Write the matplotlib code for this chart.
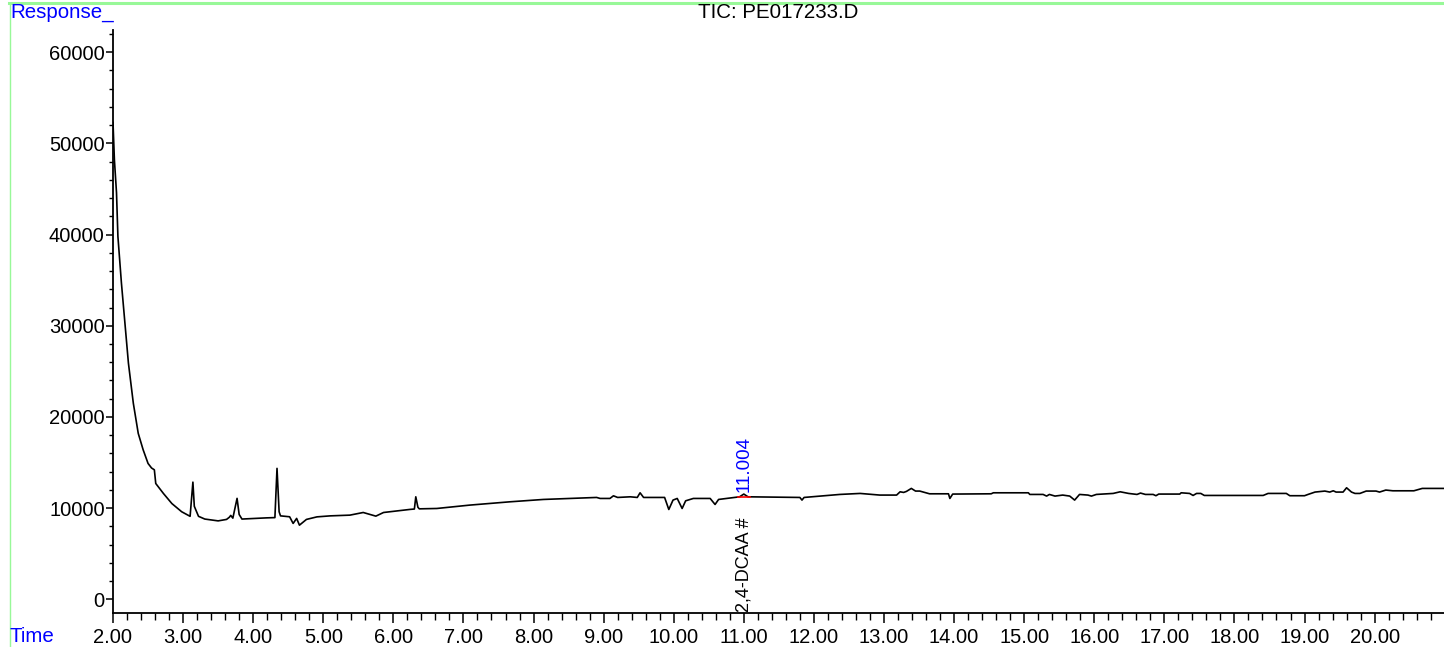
import matplotlib
matplotlib.use("Agg")
import matplotlib.pyplot as plt
from matplotlib.ticker import MultipleLocator, FormatStrFormatter
from matplotlib.lines import Line2D

plt.rcParams['font.family'] = ['Liberation Sans', 'DejaVu Sans']

# ---- data (retention time in min, response) ----
time_min = [2.00, 2.02, 2.05, 2.07, 2.12, 2.17, 2.22, 2.29, 2.36, 2.43, 2.50, 2.55, 2.59, 2.61,
            2.72, 2.84, 2.98,
            3.10, 3.14, 3.16, 3.22, 3.31, 3.50, 3.62, 3.66, 3.68, 3.71, 3.77, 3.80, 3.84,
            4.19, 4.31, 4.34, 4.37, 4.39, 4.52, 4.57, 4.62, 4.66, 4.76, 4.91, 5.10, 5.38,
            5.57, 5.75, 5.86, 6.24, 6.30, 6.32, 6.35, 6.37, 6.62, 7.09, 7.66, 8.14, 8.52,
            8.90, 8.95, 9.09, 9.14, 9.20, 9.38, 9.48, 9.52, 9.57, 9.87, 9.93, 9.99, 10.05,
            10.12, 10.17, 10.28, 10.52, 10.59, 10.64, 10.94, 11.00, 11.06, 11.80, 11.83,
            11.86, 12.09, 12.37, 12.66, 12.94, 13.18, 13.23, 13.28, 13.32, 13.39, 13.45,
            13.51, 13.65, 13.92, 13.94, 13.98, 14.53, 14.56, 15.06, 15.08, 15.27, 15.32,
            15.36, 15.44, 15.55, 15.65, 15.72, 15.79, 15.91, 15.96, 16.03, 16.27, 16.37,
            16.49, 16.61, 16.66, 16.73, 16.84, 16.88, 16.92, 17.22, 17.24, 17.36, 17.41,
            17.46, 17.52, 17.57, 18.41, 18.48, 18.74, 18.79, 19.00, 19.05, 19.15, 19.29,
            19.36, 19.41, 19.45, 19.55, 19.60, 19.67, 19.72, 19.79, 19.88, 20.02, 20.07,
            20.16, 20.26, 20.56, 20.68, 20.98]
response = [52300, 48200, 44600, 39800, 34700, 30300, 25900, 21500, 18200, 16400, 14900, 14400, 14200, 12700,
            11600, 10500, 9600,
            9100, 12850, 10200, 9100, 8800, 8600, 8760, 9000, 9200, 8900, 11070, 9300, 8800,
            8930, 8960, 14360, 9600, 9150, 9050, 8320, 8870, 8130, 8760, 9040, 9150, 9230,
            9520, 9120, 9520, 9860, 9900, 11240, 10100, 9920, 9960, 10330, 10690, 10950, 11060,
            11170, 11060, 11060, 11350, 11170, 11240, 11170, 11680, 11170, 11170, 9850, 10880, 11060,
            9960, 10800, 11060, 11060, 10400, 10950, 11240, 11540, 11240, 11170, 10880,
            11170, 11320, 11500, 11610, 11430, 11430, 11790, 11720, 11830, 12160, 11870,
            11870, 11570, 11570, 11060, 11540, 11570, 11680, 11680, 11500, 11500, 11320,
            11500, 11320, 11430, 11320, 10880, 11500, 11430, 11320, 11500, 11610, 11790,
            11610, 11500, 11650, 11500, 11500, 11360, 11540, 11540, 11680, 11610, 11390,
            11610, 11610, 11390, 11390, 11610, 11610, 11360, 11360, 11500, 11760, 11870,
            11760, 11900, 11760, 11760, 12230, 11760, 11610, 11610, 11870, 11870, 11760,
            11980, 11900, 11900, 12160, 12160]

peak_rt = 11.004
peak_label = "11.004"
compound_label = "2,4-DCAA #"
title = "TIC: PE017233.D"

W, H = 1444, 647
fig = plt.figure(figsize=(W / 100, H / 100), dpi=100)
ax = fig.add_axes([113 / W, 34 / H, (W - 113) / W, (613 - 30) / H])

ax.plot(time_min, response, color='black', lw=1.2)

ax.set_xlim(2.0, 20.99)
ax.set_ylim(-1504, 62440)

ax.xaxis.set_major_locator(MultipleLocator(1.0))
ax.xaxis.set_minor_locator(MultipleLocator(0.2))
ax.xaxis.set_major_formatter(FormatStrFormatter('%.2f'))
ax.yaxis.set_major_locator(MultipleLocator(10000))
ax.yaxis.set_minor_locator(MultipleLocator(2000))
ax.yaxis.set_major_formatter(FormatStrFormatter('%d'))

for s in ['top', 'right']:
    ax.spines[s].set_visible(False)
for s in ['left', 'bottom']:
    ax.spines[s].set_linewidth(1.3)

ax.tick_params(axis='x', which='major', length=7, width=1.1, pad=4, labelsize=14.5, direction='out')
ax.tick_params(axis='x', which='minor', length=5, width=1.0, direction='out')
ax.tick_params(axis='y', which='major', length=5, width=1.1, pad=1, labelsize=14.5, direction='out')
ax.tick_params(axis='y', which='minor', length=3, width=1.0, direction='out')

# peak annotation
ax.plot([peak_rt - 0.08, peak_rt + 0.08], [11170, 11170], color='red', lw=1.2)
ax.text(peak_rt, 11800, peak_label, rotation=90, color='#0000FF', fontsize=13.5,
        ha='center', va='bottom')
ax.text(peak_rt, 0.002, compound_label, rotation=90, color='black', fontsize=13,
        ha='center', va='bottom', transform=ax.get_xaxis_transform())

# figure texts
fig.text(778 / W, 1 - 13 / H, title, ha='center', va='center', fontsize=14.8)
fig.text(10 / W, 1 - 12 / H, "Response_", ha='left', va='center', fontsize=14.8, color='#0000FF')
fig.text(10 / W, 1 - 637 / H, "Time", ha='left', va='center', fontsize=14.8, color='#0000FF')

# green frame
fig.add_artist(Line2D([9 / W, 1], [1 - 2.5 / H, 1 - 2.5 / H], transform=fig.transFigure,
                      color='#98F898', lw=2.2))
fig.add_artist(Line2D([9.5 / W, 9.5 / W], [0, 1 - 2.5 / H], transform=fig.transFigure,
                      color='#98F898', lw=1.0))

fig.savefig('out.png', dpi=100)
